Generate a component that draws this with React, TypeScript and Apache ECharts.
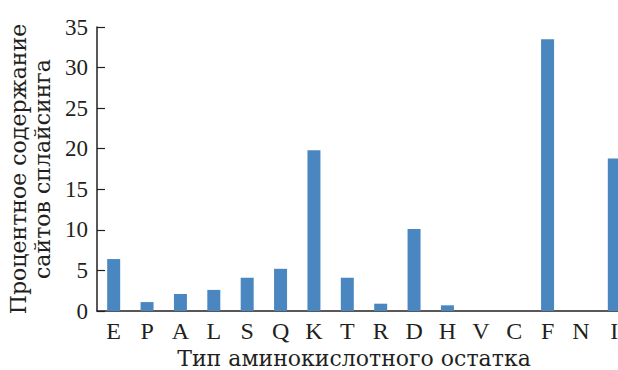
import React, { useEffect, useRef } from "react";
import * as echarts from "echarts";

const categories = ["E", "P", "A", "L", "S", "Q", "K", "T", "R", "D", "H", "V", "C", "F", "N", "I"];
const values = [6.4, 1.1, 2.1, 2.6, 4.1, 5.2, 19.8, 4.1, 0.9, 10.1, 0.7, 0, 0, 33.5, 0, 18.8];
const yTicks = { min: 0, max: 35, interval: 5 };
const yTitle = "Процентное содержание\nсайтов сплайсинга";
const xTitle = "Тип аминокислотного остатка";

const FONT = "Liberation Serif";
const TITLE_FONT = "DejaVu Serif";
const INK = "#231f20";

export default function App() {
  const ref = useRef<HTMLDivElement>(null);
  useEffect(() => {
    if (!ref.current) return;
    const chart = echarts.init(ref.current, undefined, { renderer: "svg" });
    chart.setOption({
      animation: false,
      backgroundColor: "#ffffff",
      textStyle: { fontFamily: FONT },
      grid: {
        left: 97,
        top: 27,
        width: 534,
        height: 284,
        containLabel: false,
        outerBoundsMode: "none",
      },
      xAxis: {
        type: "category",
        data: categories,
        axisLine: { lineStyle: { color: INK, width: 1.5 } },
        axisTick: { show: false },
        axisLabel: { color: INK, fontFamily: FONT, fontSize: 24, margin: 8 },
        name: xTitle,
        nameLocation: "middle",
        nameGap: 35,
        nameTextStyle: { color: INK, fontFamily: TITLE_FONT, fontSize: 22, padding: [0, 20, 0, 0] },
      },
      yAxis: {
        type: "value",
        min: yTicks.min,
        max: yTicks.max,
        interval: yTicks.interval,
        splitLine: { show: false },
        axisLine: { show: true, lineStyle: { color: INK, width: 1.5 } },
        axisTick: { show: true, inside: true, length: 8, lineStyle: { color: INK, width: 1.2 } },
        axisLabel: { show: true, color: INK, fontFamily: FONT, fontSize: 23, margin: 9 },
        name: yTitle,
        nameLocation: "middle",
        nameGap: 34,
        nameRotate: 90,
        nameTextStyle: { color: INK, fontFamily: TITLE_FONT, fontSize: 22, lineHeight: 24 },
      },
      series: [
        {
          type: "bar",
          data: values,
          barWidth: 13,
          itemStyle: { color: "#4a87c1" },
        },
      ],
    });
    return () => chart.dispose();
  }, []);
  return (
    <div
      ref={ref}
      style={{ position: "absolute", left: 0, top: 0, width: 618, height: 370, background: "#fff" }}
    />
  );
}
